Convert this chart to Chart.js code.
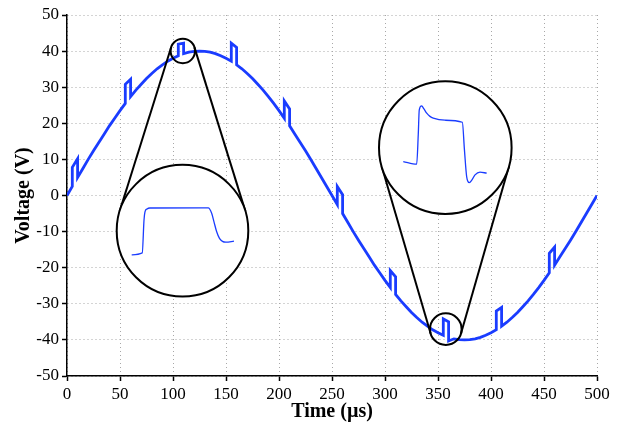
<!DOCTYPE html>
<html>
<head>
<meta charset="utf-8">
<script src="https://cdn.jsdelivr.net/npm/chart.js@4"></script>
<style>
  html, body { margin: 0; padding: 0; background: #fff; }
  canvas { display: block; }
</style>
</head>
<body>
<canvas id="voltage-chart" width="618" height="424"></canvas>
<script>
// main trace (µs, V); repeated times are the pulse edges
const timeUs = [
  0, 5, 5, 10, 10, 15, 20, 25, 30, 35, 40, 45,
  50, 55, 55, 60, 60, 65, 70, 75, 80, 85, 90, 95,
  100, 105, 105, 110, 110, 115, 120, 125, 130, 135, 140, 145,
  150, 155, 155, 160, 160, 165, 170, 175, 180, 185, 190, 195,
  200, 205, 205, 210, 210, 215, 220, 225, 230, 235, 240, 245,
  250, 255, 255, 260, 260, 265, 270, 275, 280, 285, 290, 295,
  300, 305, 305, 310, 310, 315, 320, 325, 330, 335, 340, 345,
  350, 355, 355, 360, 360, 365, 370, 375, 380, 385, 390, 395,
  400, 405, 405, 410, 410, 415, 420, 425, 430, 435, 440, 445,
  450, 455, 455, 460, 460, 465, 470, 475, 480, 485, 490, 495, 500
];
const voltage = [
  0, 2.5, 7.8, 10.2, 5.0, 7.5, 10.0, 12.4, 14.7, 17.0, 19.3, 21.4,
  23.5, 25.5, 30.8, 32.2, 27.4, 29.2, 30.8, 32.4, 33.8, 35.1, 36.2, 37.2,
  38.0, 38.7, 41.9, 42.2, 39.3, 39.7, 39.9, 40.0, 39.9, 39.7, 39.3, 38.7,
  38.0, 37.2, 42.2, 41.0, 36.2, 35.1, 33.8, 32.4, 30.8, 29.2, 27.4, 25.5,
  23.5, 21.4, 26.2, 24.0, 19.3, 17.0, 14.7, 12.4, 10.0, 7.5, 5.0, 2.5,
  0, -2.5, 2.5, 0.2, -5.0, -7.5, -10.0, -12.4, -14.7, -17.0, -19.3, -21.4,
  -23.5, -25.5, -20.8, -22.5, -27.4, -29.2, -30.8, -32.4, -33.8, -35.1, -36.2, -37.2,
  -38.0, -38.7, -34.2, -35.0, -40.3, -39.7, -39.9, -40.0, -39.9, -39.7, -39.3, -38.7,
  -38.0, -37.2, -32.0, -31.0, -36.2, -35.1, -33.8, -32.4, -30.8, -29.2, -27.4, -25.5,
  -23.5, -21.4, -16.0, -14.3, -19.3, -17.0, -14.7, -12.4, -10.0, -7.5, -5.0, -2.5, 0
];

// zoomed pulse near the positive peak
const inset1Time = [104.14, 104.91, 105.04, 105.11, 105.26, 105.47, 109.73, 109.98, 110.15, 110.34, 110.55, 110.77, 111.02, 111.61];
const inset1Voltage = [39.07, 39.20, 41.41, 41.95, 42.15, 42.21, 42.22, 41.86, 41.28, 40.63, 40.17, 39.97, 39.92, 39.99];

// zoomed pulse near the negative peak
const inset2Time = [353.40, 354.86, 355.03, 355.14, 355.40, 355.65, 355.95, 356.30, 356.66, 357.93, 359.82, 360.05, 360.29, 360.58, 360.87, 361.20, 361.74, 362.47];
const inset2Voltage = [-37.31, -37.53, -35.08, -33.00, -32.67, -32.92, -33.27, -33.54, -33.69, -33.86, -34.03, -36.33, -38.56, -39.06, -38.83, -38.42, -38.19, -38.28];

const timeTicks = [0, 50, 100, 150, 200, 250, 300, 350, 400, 450, 500];
const voltageTicks = [-50, -40, -30, -20, -10, 0, 10, 20, 30, 40, 50];

// where the magnifier circles sit (axis units) and how much they enlarge
const lenses = [
  { small: { t: 109.25, v: 40.04, r: 12.2 }, big: { t: 108.96, v: -9.74, r: 65.8 },
    t0: 107.85, v0: 40.69, kx: 12.92, ky: 4.13 },
  { small: { t: 357.36, v: -37.02, r: 15.8 }, big: { t: 356.89, v: 13.25, r: 66.3 },
    t0: 357.97, v0: -36.15, kx: 8.68, ky: 3.32 }
];

const blue = '#1a3cff';
const serif = "'Liberation Serif', 'Times New Roman', serif";

function toPoints(xs, ys) {
  return xs.map((x, i) => ({ x: x, y: ys[i] }));
}

function insetX(lens) {
  return { type: 'linear', display: false,
    min: lens.t0 + (timeTicks[0] - lens.big.t) / lens.kx,
    max: lens.t0 + (timeTicks[timeTicks.length - 1] - lens.big.t) / lens.kx };
}
function insetY(lens) {
  return { type: 'linear', display: false,
    min: lens.v0 + (voltageTicks[0] - lens.big.v) / lens.ky,
    max: lens.v0 + (voltageTicks[voltageTicks.length - 1] - lens.big.v) / lens.ky };
}

const magnifierPlugin = {
  id: 'magnifier',
  afterDatasetDraw(chart, args) {
    if (args.index !== 0) return;
    const ctx = chart.ctx;
    const x = chart.scales.x, y = chart.scales.y;
    ctx.save();
    ctx.strokeStyle = '#000';
    ctx.lineWidth = 2;
    lenses.forEach(l => {
      const s = { x: x.getPixelForValue(l.small.t), y: y.getPixelForValue(l.small.v), r: l.small.r };
      const b = { x: x.getPixelForValue(l.big.t), y: y.getPixelForValue(l.big.v), r: l.big.r };
      const dx = b.x - s.x, dy = b.y - s.y, d = Math.hypot(dx, dy);
      const ux = dx / d, uy = dy / d;
      const a = (s.r - b.r) / d, h = Math.sqrt(1 - a * a);
      [1, -1].forEach(sg => {
        const nx = a * ux - sg * h * uy, ny = a * uy + sg * h * ux;
        ctx.beginPath();
        ctx.moveTo(s.x + s.r * nx, s.y + s.r * ny);
        ctx.lineTo(b.x + b.r * nx, b.y + b.r * ny);
        ctx.stroke();
      });
      ctx.beginPath();
      ctx.arc(b.x, b.y, b.r, 0, Math.PI * 2);
      ctx.fillStyle = '#fff';
      ctx.fill();
      ctx.stroke();
      ctx.beginPath();
      ctx.arc(s.x, s.y, s.r, 0, Math.PI * 2);
      ctx.stroke();
    });
    ctx.restore();
  }
};

const axisCommon = {
  border: { display: true, color: '#000', width: 1.5, dash: [1, 3] },
  grid: { color: '#a8a8a8', lineWidth: 1, tickLength: 5, tickColor: '#000', tickWidth: 1.5, tickBorderDash: [] },
  ticks: { color: '#000', font: { family: serif, size: 17 }, padding: 3 }
};

const ctx = document.getElementById('voltage-chart').getContext('2d');
new Chart(ctx, {
  type: 'line',
  data: {
    datasets: [
      { data: toPoints(timeUs, voltage), borderColor: blue, borderWidth: 2.8,
        pointRadius: 0, tension: 0, order: 2, xAxisID: 'x', yAxisID: 'y' },
      { data: toPoints(inset1Time, inset1Voltage), borderColor: blue, borderWidth: 1.3,
        pointRadius: 0, cubicInterpolationMode: 'monotone', order: 1, xAxisID: 'xi1', yAxisID: 'yi1' },
      { data: toPoints(inset2Time, inset2Voltage), borderColor: blue, borderWidth: 1.3,
        pointRadius: 0, cubicInterpolationMode: 'monotone', order: 1, xAxisID: 'xi2', yAxisID: 'yi2' }
    ]
  },
  options: {
    responsive: false,
    animation: false,
    layout: { padding: { top: 15, right: 21, left: 0, bottom: 0 } },
    plugins: { legend: { display: false }, tooltip: { enabled: false } },
    scales: {
      x: Object.assign({}, axisCommon, {
        type: 'linear', min: 0, max: 500,
        afterBuildTicks: s => { s.ticks = timeTicks.map(v => ({ value: v })); },
        afterFit: s => { s.height = 48; },
        title: { display: true, text: 'Time (µs)', color: '#000',
          font: { family: serif, size: 20, weight: 'bold' }, padding: { top: 0, bottom: 0 } }
      }),
      y: Object.assign({}, axisCommon, {
        type: 'linear', min: -50, max: 50,
        afterBuildTicks: s => { s.ticks = voltageTicks.map(v => ({ value: v })); },
        afterFit: s => { s.width = 67; },
        title: { display: true, text: 'Voltage (V)', color: '#000',
          font: { family: serif, size: 20, weight: 'bold' }, padding: { top: 12, bottom: 0 } }
      }),
      xi1: insetX(lenses[0]),
      yi1: insetY(lenses[0]),
      xi2: insetX(lenses[1]),
      yi2: insetY(lenses[1])
    }
  },
  plugins: [magnifierPlugin]
});
</script>
</body>
</html>
